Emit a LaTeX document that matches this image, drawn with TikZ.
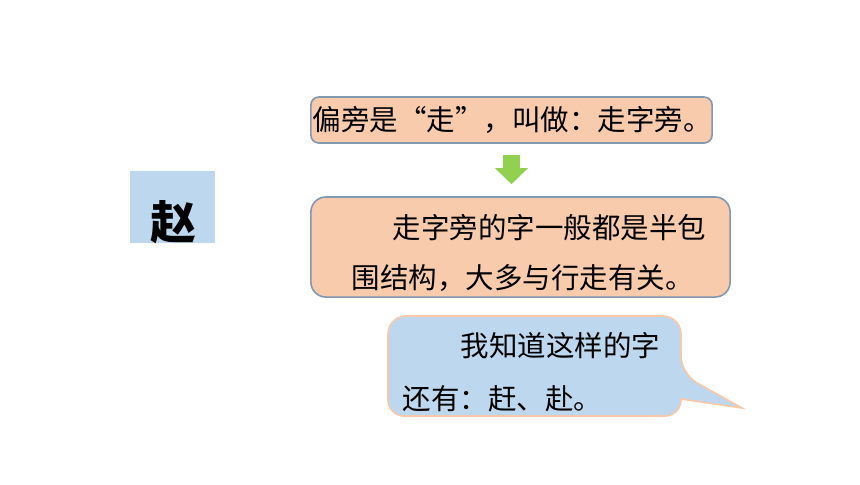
\documentclass[tikz,border=0pt]{standalone}
\usepackage{fontspec}
\newfontfamily\cjk{Noto Sans CJK SC}
\usetikzlibrary{arrows.meta,calc}
\definecolor{peach}{HTML}{F8CBAD}
\definecolor{paleblue}{HTML}{BDD7EE}
\definecolor{edgeblue}{HTML}{8497B0}
\definecolor{edgeorange}{HTML}{F8C8A8}
\definecolor{leafgreen}{HTML}{92D050}
\begin{document}
\begin{tikzpicture}[x=0.01cm,y=-0.01cm,
  box/.style={draw=edgeblue,line width=0.45pt,fill=peach},
  txt/.style={font=\cjk\fontsize{8.1}{10}\selectfont,inner sep=0pt,anchor=west},
  downarrow/.style={leafgreen,line width=0.17cm,-{Triangle[width=0.32cm,length=0.16cm]}}]
\useasboundingbox (0,0) rectangle (860,484);
% 字
\node[fill=paleblue,minimum width=0.85cm,minimum height=0.72cm] (zi) at (172.5,207) {};
\node[font=\cjk\bfseries\fontsize{13}{13}\selectfont,inner sep=0pt] (zhao) at (173,222) {赵};
% 偏旁
\node[box,rounded corners=0.08cm,minimum width=4.01cm,minimum height=0.46cm] (box1) at (511.5,120) {};
\node[txt] (t1) at (312,120) {偏旁是“走”，叫做：走字旁。};
% 说明
\node[box,rounded corners=0.15cm,minimum width=4.19cm,minimum height=1cm] (box2) at (520.5,247) {};
\node[txt] (t2a) at (392,228) {走字旁的字一般都是半包};
\node[txt] (t2b) at (351,278) {围结构，大多与行走有关。};
% 箭头
\draw[downarrow] ($(box1.south)+(0,11)$) -- ($(box1.south |- box2.north)+(0,-12)$);
% 对话框
\draw[draw=edgeorange,fill=paleblue,line width=0.45pt] (388,366) [rounded corners=0.18cm] -- (388,316) -- (681,316) -- (681,374)
  [sharp corners] -- (742,408) -- (681,399) [rounded corners=0.16cm] -- (681,416) -- (388,416) -- cycle;
\node[txt] (t3a) at (460,346) {我知道这样的字};
\node[txt] (t3b) at (402,399) {还有：赶、赴。};
\end{tikzpicture}
\end{document}
